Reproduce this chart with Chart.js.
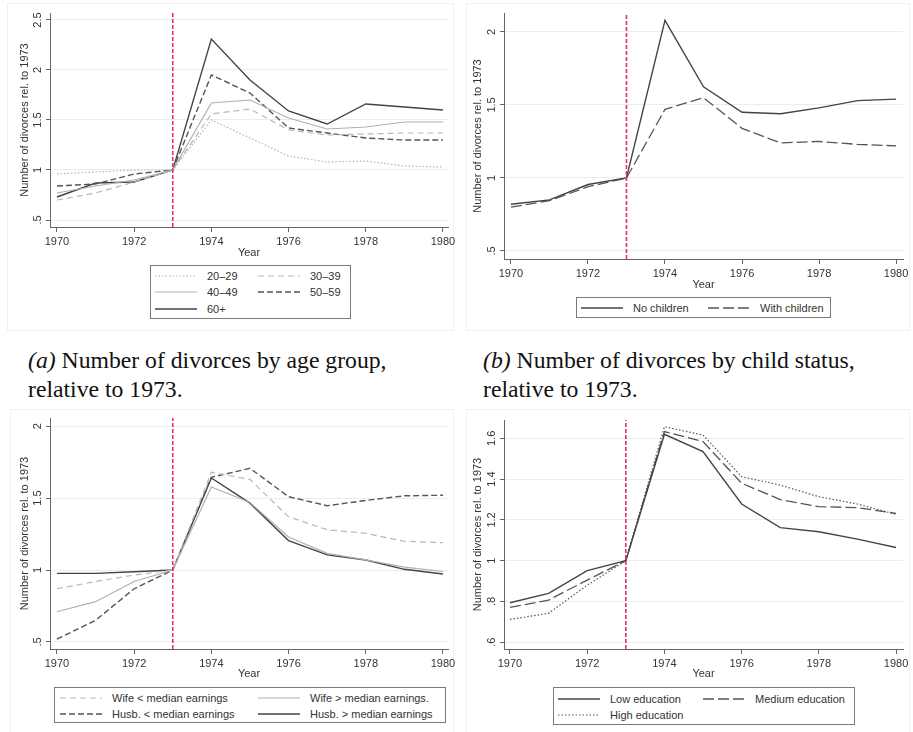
<!DOCTYPE html>
<html>
<head>
<meta charset="utf-8">
<script src="https://cdn.jsdelivr.net/npm/chart.js@4.4.1/dist/chart.umd.min.js"></script>
<style>
  body { margin: 0; background: #fff; width: 913px; height: 732px; position: relative; overflow: hidden;
         font-family: "Liberation Sans", Arial, sans-serif; }
  .region { position: absolute; border: 1px solid #f1f1f1; box-sizing: border-box; }
  canvas { position: absolute; }
  .legend { position: absolute; border: 1px solid #7a7a7a; box-sizing: border-box; background: #fff; }
  .item { position: absolute; height: 14px; display: flex; align-items: center; white-space: nowrap;
          font-size: 11px; color: #333; }
  .item svg { margin-right: 10px; }
  .caption { position: absolute; font-family: "Liberation Serif", "Times New Roman", serif; font-size: 23.7px;
             color: #111; line-height: 29px; white-space: nowrap; }
</style>
</head>
<body>
<div class="region" style="left:7px;top:3px;width:447px;height:328px"></div>
<div class="region" style="left:466px;top:3px;width:444px;height:328px"></div>
<div class="region" style="left:10px;top:409px;width:444px;height:330px"></div>
<div class="region" style="left:466px;top:409px;width:444px;height:330px"></div>

<canvas id="chartA"></canvas>
<canvas id="chartB"></canvas>
<canvas id="chartC"></canvas>
<canvas id="chartD"></canvas>

<div class="caption" style="left:28px;top:346px"><i>(a)</i> Number of divorces by age group,<br>relative to 1973.</div>
<div class="caption" style="left:483px;top:346px"><i>(b)</i> Number of divorces by child status,<br>relative to 1973.</div>

<script>
const years = [1970, 1971, 1972, 1973, 1974, 1975, 1976, 1977, 1978, 1979, 1980];
const xTicks = [1970, 1972, 1974, 1976, 1978, 1980];
const reformYear = 1973;

// (a) age groups
const ageNames = ['20–29', '30–39', '40–49', '50–59', '60+'];
const age2029 = [0.96, 0.98, 1.00, 1.00, 1.50, 1.32, 1.14, 1.08, 1.09, 1.04, 1.03];
const age3039 = [0.70, 0.77, 0.88, 1.00, 1.56, 1.61, 1.40, 1.35, 1.36, 1.37, 1.37];
const age4049 = [0.77, 0.84, 0.90, 1.00, 1.67, 1.70, 1.52, 1.41, 1.43, 1.48, 1.48];
const age5059 = [0.84, 0.86, 0.96, 1.00, 1.95, 1.77, 1.42, 1.37, 1.32, 1.30, 1.30];
const age60 = [0.73, 0.87, 0.88, 1.00, 2.31, 1.90, 1.59, 1.46, 1.66, 1.63, 1.60];
const ageTicks = [0.5, 1, 1.5, 2, 2.5];
const ageTickLabels = ['.5', '1', '1.5', '2', '2.5'];

// (b) child status
const childNames = ['No children', 'With children'];
const noChildren = [0.82, 0.85, 0.955, 1.00, 2.08, 1.625, 1.45, 1.44, 1.48, 1.53, 1.54];
const withChildren = [0.80, 0.845, 0.94, 1.00, 1.47, 1.55, 1.34, 1.24, 1.25, 1.23, 1.22];
const childTicks = [0.5, 1, 1.5, 2];
const childTickLabels = ['.5', '1', '1.5', '2'];

// (c) earnings
const earnNames = ['Wife < median earnings', 'Wife > median earnings.', 'Husb. < median earnings', 'Husb. > median earnings'];
const wifeBelow = [0.87, 0.92, 0.965, 1.00, 1.68, 1.63, 1.37, 1.28, 1.255, 1.20, 1.19];
const wifeAbove = [0.71, 0.78, 0.92, 1.00, 1.577, 1.47, 1.23, 1.116, 1.07, 1.02, 0.99];
const husbBelow = [0.52, 0.65, 0.87, 1.00, 1.645, 1.707, 1.51, 1.447, 1.484, 1.516, 1.52];
const husbAbove = [0.977, 0.977, 0.988, 1.00, 1.64, 1.465, 1.205, 1.105, 1.07, 1.005, 0.972];
const earnTicks = [0.5, 1, 1.5, 2];
const earnTickLabels = ['.5', '1', '1.5', '2'];

// (d) education
const eduNames = ['Low education', 'Medium education', 'High education'];
const eduLow = [0.794, 0.84, 0.951, 1.00, 1.62, 1.535, 1.278, 1.162, 1.142, 1.106, 1.065];
const eduMedium = [0.771, 0.807, 0.905, 1.00, 1.633, 1.584, 1.38, 1.30, 1.265, 1.26, 1.232];
const eduHigh = [0.712, 0.742, 0.88, 1.00, 1.657, 1.616, 1.412, 1.371, 1.314, 1.278, 1.227];
const eduTicks = [0.6, 0.8, 1, 1.2, 1.4, 1.6];
const eduTickLabels = ['.6', '.8', '1', '1.2', '1.4', '1.6'];

const STYLE = {
    dotted: { color: '#b4b4b4', dash: [1.5, 2], width: 1.2 },
    lightDash: { color: '#b8b8b8', dash: [6, 4], width: 1.2 },
    lightSolid: { color: '#b0b0b0', dash: [], width: 1.2 },
    darkDash: { color: '#555555', dash: [6, 3], width: 1.4 },
    darkSolid: { color: '#444444', dash: [], width: 1.4 },
    longDash: { color: '#555555', dash: [11, 4], width: 1.3 },
    darkDotted: { color: '#555555', dash: [1.5, 2], width: 1.2 }
};

Chart.defaults.font.family = '"Liberation Sans", Arial, sans-serif';
Chart.defaults.font.size = 11;
Chart.defaults.color = '#333';

const rotatedYLabels = {
    id: 'yLabels',
    afterDraw(chart, args, opts) {
        const { ctx, chartArea } = chart;
        const y = chart.scales.y;
        ctx.save();
        ctx.fillStyle = '#333';
        ctx.font = '11px "Liberation Sans", Arial, sans-serif';
        ctx.textAlign = 'center';
        ctx.textBaseline = 'middle';
        opts.values.forEach((v, i) => {
            ctx.save();
            ctx.translate(chartArea.left - 12, y.getPixelForValue(v));
            ctx.rotate(-Math.PI / 2);
            ctx.fillText(opts.labels[i], 0, 0);
            ctx.restore();
        });
        ctx.restore();
    }
};

function series(values, label, style) {
    return {
        label: label,
        data: years.map((yr, i) => ({ x: yr, y: values[i] })),
        borderColor: style.color,
        borderDash: style.dash,
        borderWidth: style.width,
        pointRadius: 0,
        tension: 0,
        fill: false,
        order: 2
    };
}

function makePanel(p) {
    const canvas = document.getElementById(p.id);
    canvas.width = p.width;
    canvas.height = p.height;
    canvas.style.left = p.left + 'px';
    canvas.style.top = p.top + 'px';

    const datasets = p.series.map(s => series(s.values, s.label, s.style));
    datasets.unshift({
        label: 'reform',
        data: [{ x: reformYear, y: p.yMin }, { x: reformYear, y: p.yMax }],
        borderColor: '#e4336a',
        borderDash: [4, 2],
        borderWidth: 1.6,
        pointRadius: 0,
        order: 1
    });

    new Chart(canvas, {
        type: 'line',
        data: { datasets },
        plugins: [rotatedYLabels],
        options: {
            responsive: false,
            animation: false,
            layout: { padding: { left: 0, top: p.area.t, right: p.width - p.area.r, bottom: 0 } },
            plugins: {
                legend: { display: false },
                tooltip: { enabled: false },
                yLabels: { values: p.yTicks, labels: p.yTickLabels }
            },
            scales: {
                x: {
                    type: 'linear',
                    min: p.xMin,
                    max: p.xMax,
                    afterBuildTicks: s => { s.ticks = xTicks.map(v => ({ value: v })); },
                    afterFit: s => { s.height = p.height - p.area.b; s.paddingLeft = 0; s.paddingRight = 0; },
                    ticks: { color: '#333', padding: 3, maxRotation: 0, callback: v => String(v) },
                    grid: { drawOnChartArea: false, drawTicks: true, tickLength: 5, tickColor: '#666' },
                    border: { color: '#666', width: 1 },
                    title: { display: true, text: 'Year', color: '#333', padding: { top: 0, bottom: p.xTitlePad } }
                },
                y: {
                    type: 'linear',
                    min: p.yMin,
                    max: p.yMax,
                    afterBuildTicks: s => { s.ticks = p.yTicks.map(v => ({ value: v })); },
                    afterFit: s => { s.width = p.area.l; },
                    ticks: { display: false },
                    grid: { color: '#e6eef0', lineWidth: 1, drawTicks: true, tickLength: 4, tickColor: '#666' },
                    border: { color: '#666', width: 1 },
                    title: { display: true, text: 'Number of divorces rel. to 1973', color: '#333',
                             padding: { top: p.yTitlePad, bottom: 0 } }
                }
            }
        }
    });
}

function makeLegend(box, entries) {
    const el = document.createElement('div');
    el.className = 'legend';
    el.style.left = box.l + 'px';
    el.style.top = box.t + 'px';
    el.style.width = (box.r - box.l) + 'px';
    el.style.height = (box.b - box.t) + 'px';
    document.body.appendChild(el);
    entries.forEach(e => {
        const it = document.createElement('div');
        it.className = 'item';
        it.style.left = (e.x - box.l - 1) + 'px';
        it.style.top = (e.y - box.t - 8) + 'px';
        const w = e.w || 42;
        it.innerHTML = `<svg width="${w}" height="4"><line x1="0" y1="2" x2="${w}" y2="2" stroke="${e.style.color}"
            stroke-width="${e.style.width}" stroke-dasharray="${e.style.dash.join(' ')}"/></svg>` +
            `<span style="margin-left:${e.gap || 0}px">${e.label}</span>`;
        el.appendChild(it);
    });
}

// (a)
makePanel({
    id: 'chartA', left: 0, top: 0, width: 456, height: 262,
    area: { l: 50, t: 13, r: 448, b: 227 },
    xMin: 1969.82, xMax: 1980.13, yMin: 0.43, yMax: 2.57,
    yTicks: ageTicks, yTickLabels: ageTickLabels, xTitlePad: 2.5, yTitlePad: 18.5,
    series: [
        { values: age2029, label: ageNames[0], style: STYLE.dotted },
        { values: age3039, label: ageNames[1], style: STYLE.lightDash },
        { values: age4049, label: ageNames[2], style: STYLE.lightSolid },
        { values: age5059, label: ageNames[3], style: STYLE.darkDash },
        { values: age60, label: ageNames[4], style: STYLE.darkSolid }
    ]
});
makeLegend({ l: 150, t: 265, r: 351, b: 319 }, [
    { x: 155, y: 276, label: ageNames[0], style: STYLE.dotted },
    { x: 258, y: 276, label: ageNames[1], style: STYLE.lightDash },
    { x: 155, y: 292, label: ageNames[2], style: STYLE.lightSolid },
    { x: 258, y: 292, label: ageNames[3], style: STYLE.darkDash },
    { x: 155, y: 309, label: ageNames[4], style: STYLE.darkSolid }
]);

// (b)
makePanel({
    id: 'chartB', left: 456, top: 0, width: 457, height: 292,
    area: { l: 48, t: 13, r: 447, b: 259 },
    xMin: 1969.82, xMax: 1980.18, yMin: 0.445, yMax: 2.13,
    yTicks: childTicks, yTickLabels: childTickLabels, xTitlePad: 0.5, yTitlePad: 15.5,
    series: [
        { values: noChildren, label: childNames[0], style: STYLE.darkSolid },
        { values: withChildren, label: childNames[1], style: STYLE.longDash }
    ]
});
makeLegend({ l: 576, t: 297, r: 831, b: 318 }, [
    { x: 581, y: 308, label: childNames[0], style: STYLE.darkSolid },
    { x: 708, y: 308, label: childNames[1], style: STYLE.longDash }
]);

// (c)
makePanel({
    id: 'chartC', left: 0, top: 405, width: 456, height: 280,
    area: { l: 50, t: 13, r: 448, b: 244 },
    xMin: 1969.82, xMax: 1980.13, yMin: 0.451, yMax: 2.057,
    yTicks: earnTicks, yTickLabels: earnTickLabels, xTitlePad: 4.5, yTitlePad: 18.5,
    series: [
        { values: wifeBelow, label: earnNames[0], style: STYLE.lightDash },
        { values: wifeAbove, label: earnNames[1], style: STYLE.lightSolid },
        { values: husbBelow, label: earnNames[2], style: STYLE.darkDash },
        { values: husbAbove, label: earnNames[3], style: STYLE.darkSolid }
    ]
});
makeLegend({ l: 54, t: 687, r: 446, b: 723 }, [
    { x: 60, y: 698, label: earnNames[0], style: STYLE.lightDash },
    { x: 258, y: 698, label: earnNames[1], style: STYLE.lightSolid },
    { x: 60, y: 714, label: earnNames[2], style: STYLE.darkDash },
    { x: 258, y: 714, label: earnNames[3], style: STYLE.darkSolid }
]);

// (d)
makePanel({
    id: 'chartD', left: 456, top: 405, width: 457, height: 280,
    area: { l: 48, t: 15, r: 447, b: 244 },
    xMin: 1969.845, xMax: 1980.18, yMin: 0.567, yMax: 1.69,
    yTicks: eduTicks, yTickLabels: eduTickLabels, xTitlePad: 4.5, yTitlePad: 15.5,
    series: [
        { values: eduLow, label: eduNames[0], style: STYLE.darkSolid },
        { values: eduMedium, label: eduNames[1], style: STYLE.longDash },
        { values: eduHigh, label: eduNames[2], style: STYLE.darkDotted }
    ]
});
makeLegend({ l: 553, t: 687, r: 855, b: 725 }, [
    { x: 558, y: 699, label: eduNames[0], style: STYLE.darkSolid },
    { x: 703, y: 699, label: eduNames[1], style: STYLE.longDash },
    { x: 558, y: 715, label: eduNames[2], style: STYLE.darkDotted }
]);
</script>
</body>
</html>
